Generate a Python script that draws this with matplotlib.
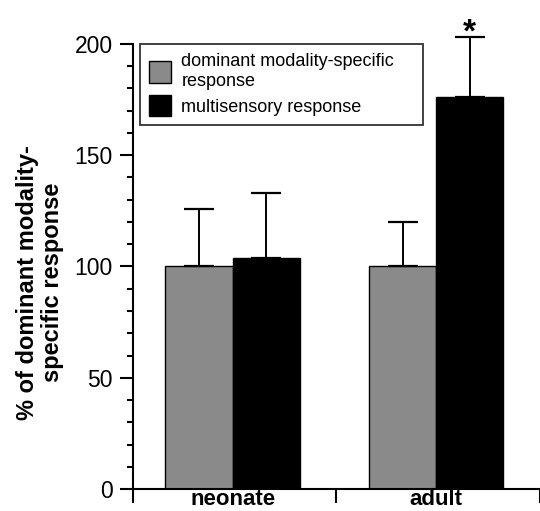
import matplotlib
matplotlib.use('Agg')
import matplotlib.pyplot as plt
import numpy as np
from matplotlib.ticker import MultipleLocator

plt.rcParams['font.family'] = ['Liberation Sans', 'DejaVu Sans']

groups = ['neonate', 'adult']
series = ['dominant modality-specific\nresponse', 'multisensory response']
colors = ['#8a8a8a', '#000000']
values = {
    'dominant': [100, 100],
    'multisensory': [104, 176],
}
errors = {
    'dominant': [26, 20],
    'multisensory': [29, 27],
}
significant = [False, True]

fig = plt.figure(figsize=(5.4, 5.11), dpi=100)
ax = fig.add_axes([0.246, 0.043, 0.754, 0.871])

centers = np.array([0.49, 1.49])
w = 0.33
for k, key in enumerate(['dominant', 'multisensory']):
    xs = centers + (k - 0.5) * w
    ax.bar(xs, values[key], width=w, color=colors[k], edgecolor='black',
           linewidth=1.0, label=series[k], zorder=2)
    ax.errorbar(xs, values[key], yerr=[np.zeros(2), errors[key]], fmt='none',
                ecolor='black', elinewidth=1.4, capsize=11, capthick=1.6,
                clip_on=False, zorder=3)
    for i, sig in enumerate(significant):
        if sig and key == 'multisensory':
            ax.text(xs[i], values[key][i] + errors[key][i] + 2, '*', ha='center',
                    va='center', fontsize=24, fontweight='bold', clip_on=False)

ax.set_xlim(0, 2)
ax.set_ylim(0, 200)
ax.spines['top'].set_visible(False)
ax.spines['right'].set_visible(False)
ax.spines['left'].set_linewidth(1.5)
ax.spines['bottom'].set_linewidth(1.5)

ax.yaxis.set_major_locator(MultipleLocator(50))
ax.yaxis.set_minor_locator(MultipleLocator(10))
ax.tick_params(axis='y', which='major', length=9.5, width=1.5, labelsize=16.5, pad=5)
ax.tick_params(axis='y', which='minor', length=4.5, width=1.5)

ax.set_xticks([0, 1, 2])
ax.set_xticklabels([])
ax.tick_params(axis='x', which='major', length=10, width=1.5)
for c, g in zip(centers, groups):
    ax.text(c, -0.048, g, transform=ax.get_xaxis_transform(), ha='center', va='bottom',
            fontsize=16, fontweight='bold')

fig.text(0.074, 0.448, '% of dominant modality-\nspecific response', rotation=90,
         ha='center', va='center', fontsize=17, fontweight='bold', linespacing=1.1,
         multialignment='center')

leg = ax.legend(loc='upper left', bbox_to_anchor=(0.017, 0.0, 0.696, 1.0), mode='expand',
                fontsize=13, frameon=True, fancybox=False, edgecolor='black',
                handlelength=1.25, handleheight=1.45, handletextpad=0.55, borderpad=0.5,
                labelspacing=0.3, borderaxespad=0)
leg.get_frame().set_linewidth(1.3)

fig.savefig('out.png', dpi=100)
